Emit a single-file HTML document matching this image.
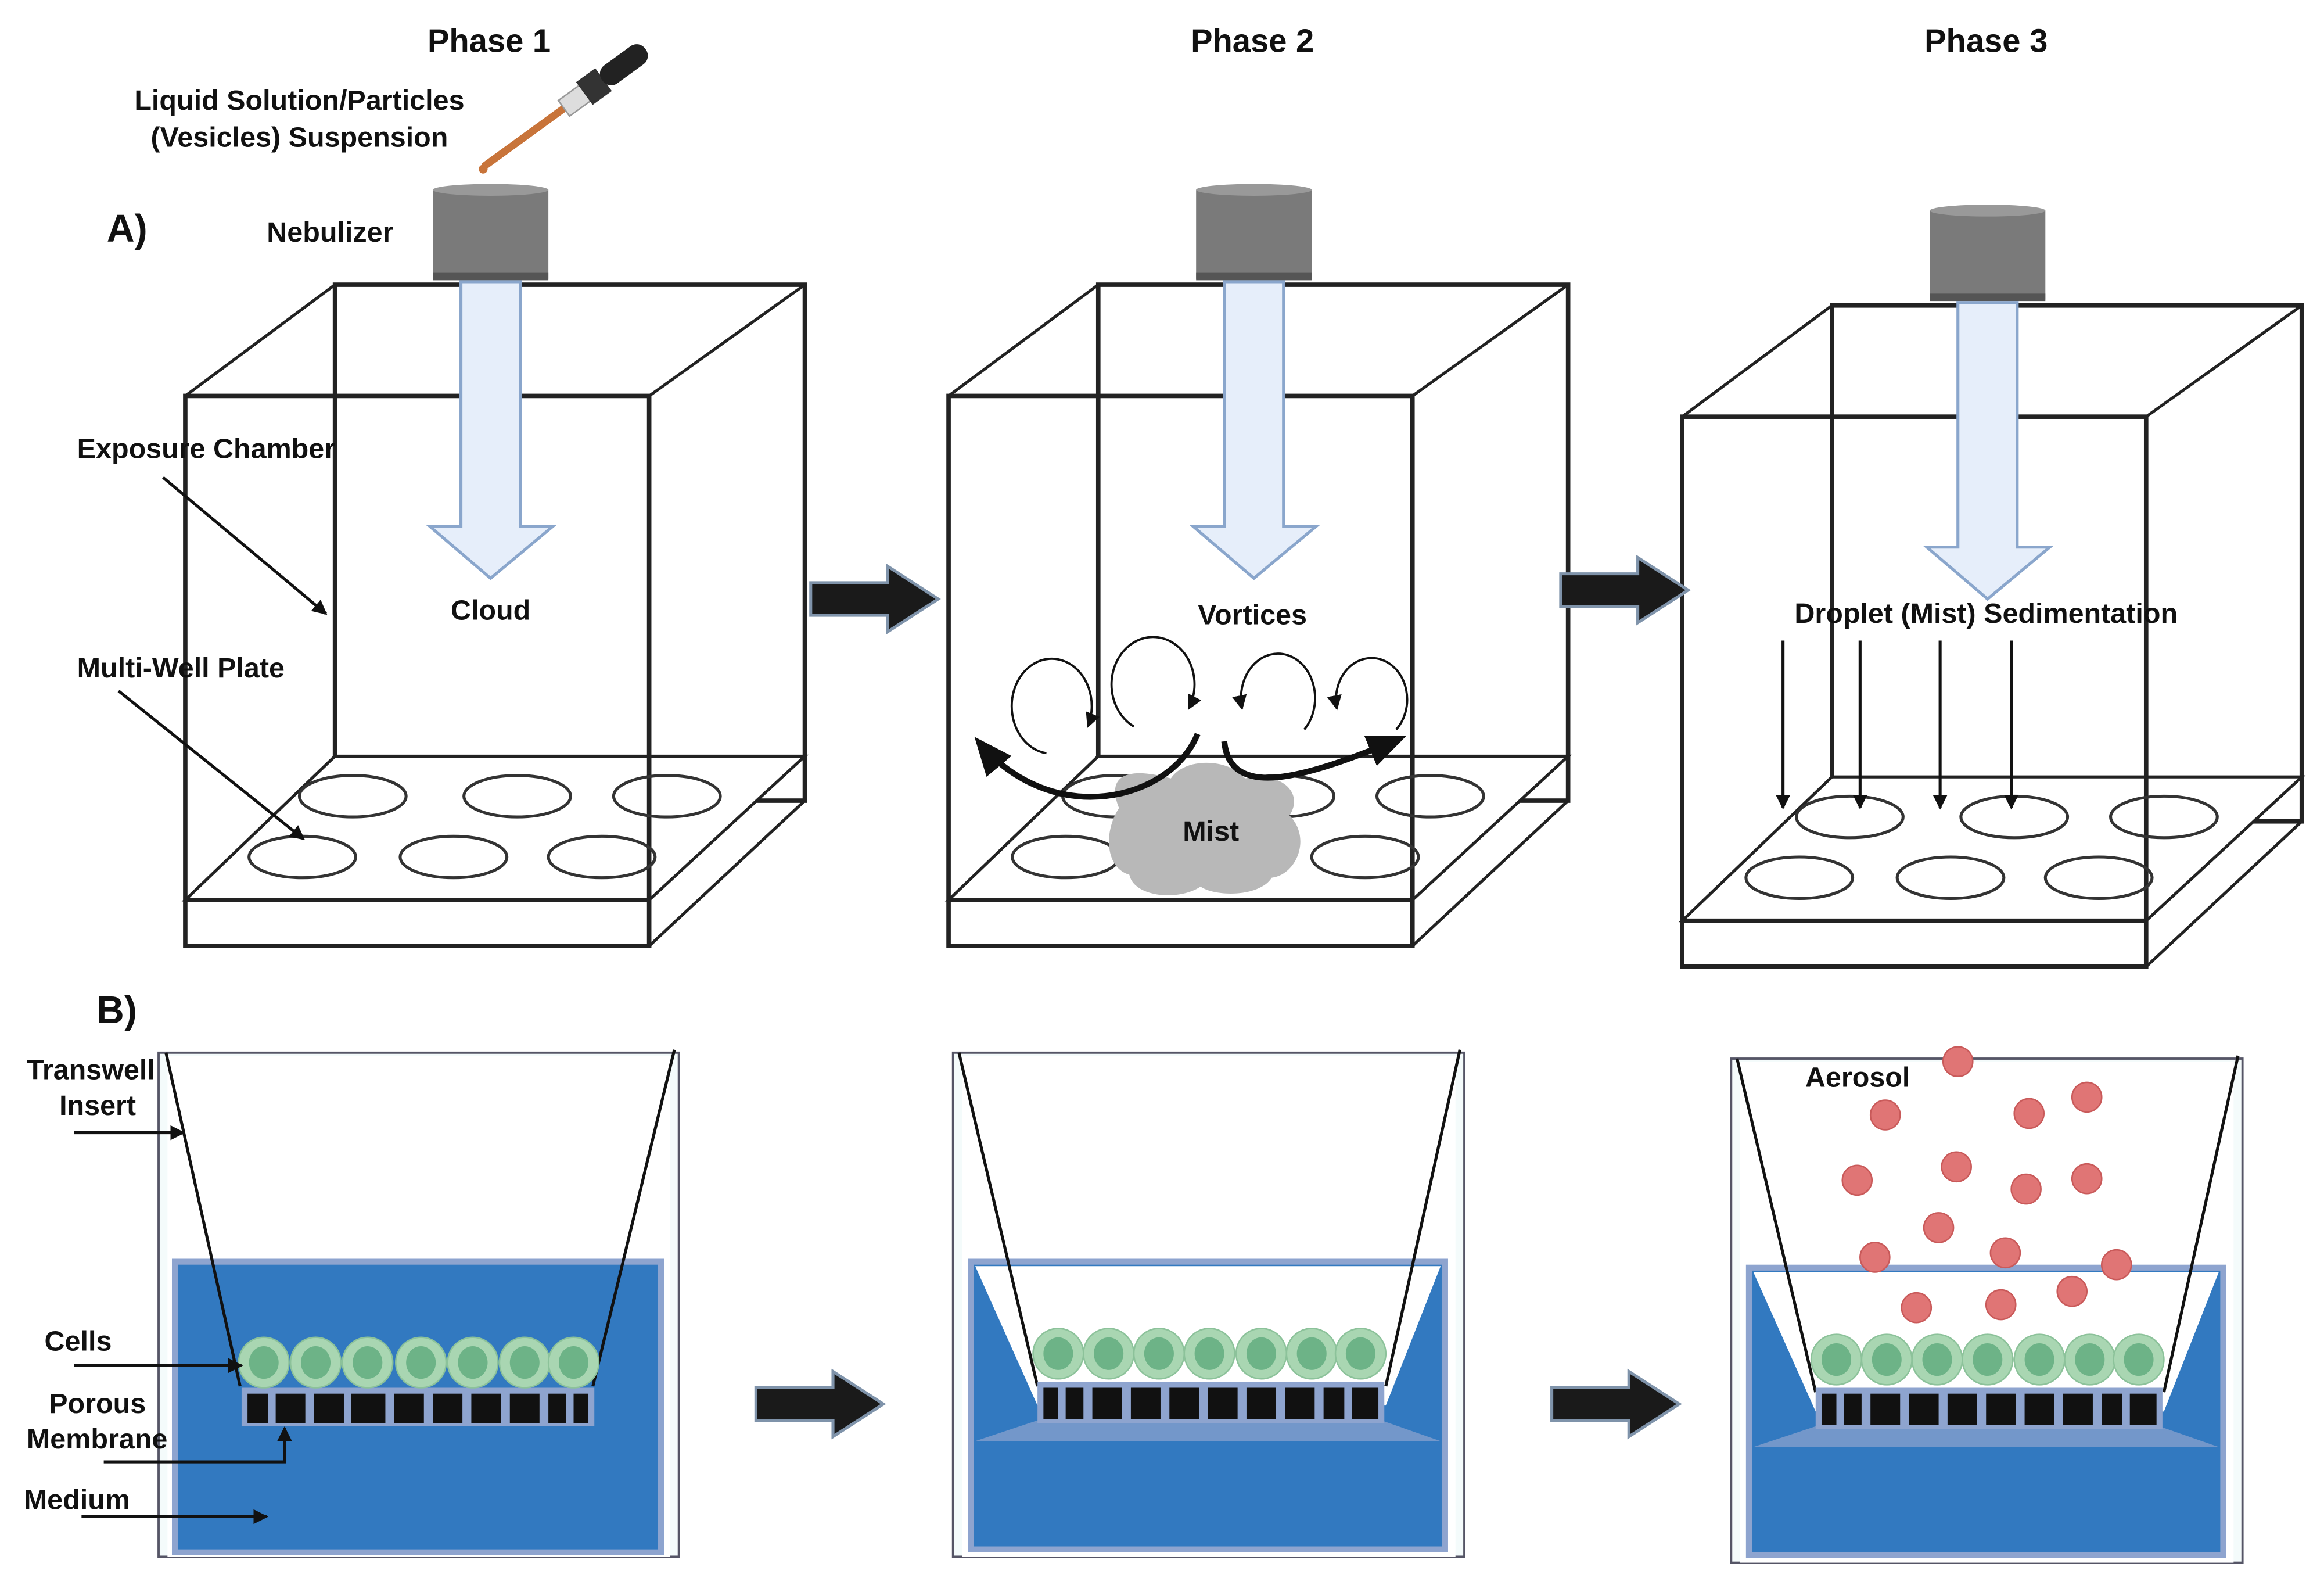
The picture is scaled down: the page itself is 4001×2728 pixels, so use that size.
<!DOCTYPE html>
<html><head><meta charset="utf-8"><style>
html,body{margin:0;padding:0;background:#fff;}
svg{display:block;}
text{font-family:"Liberation Sans",sans-serif;font-weight:bold;fill:#111;}
</style></head><body>
<svg width="4001" height="2728" viewBox="0 0 1568 1069" xmlns="http://www.w3.org/2000/svg">
<defs>
<marker id="ah" markerWidth="10" markerHeight="10" refX="9" refY="5" orient="auto" markerUnits="userSpaceOnUse"><path d="M0,0 L10,5 L0,10 z" fill="#111"/></marker>
<marker id="ahb" markerWidth="26" markerHeight="22" refX="22" refY="11" orient="auto" markerUnits="userSpaceOnUse"><path d="M0,0 L26,11 L0,22 z" fill="#111"/></marker>
<g id="chamber">
 <rect x="226" y="192" width="317" height="348" fill="none" stroke="#222" stroke-width="3"/>
 <line x1="125" y1="267" x2="226" y2="192" stroke="#222" stroke-width="2"/>
 <line x1="438" y1="267" x2="543" y2="192" stroke="#222" stroke-width="2"/>
 <polygon points="125,607 226,510 543,510 438,607" fill="#fff" stroke="#222" stroke-width="2"/>
 <line x1="438" y1="638" x2="543" y2="540" stroke="#222" stroke-width="2"/>
 <rect x="125" y="267" width="313" height="371" fill="none" stroke="#222" stroke-width="3"/>
 <line x1="125" y1="607" x2="438" y2="607" stroke="#222" stroke-width="3"/>
 <g fill="none" stroke="#333" stroke-width="2">
  <ellipse cx="238" cy="537" rx="36" ry="14"/><ellipse cx="349" cy="537" rx="36" ry="14"/><ellipse cx="450" cy="537" rx="36" ry="14"/>
  <ellipse cx="204" cy="578" rx="36" ry="14"/><ellipse cx="306" cy="578" rx="36" ry="14"/><ellipse cx="406" cy="578" rx="36" ry="14"/>
 </g>
</g>
<g id="neb">
 <rect x="292" y="128" width="78" height="60" fill="#7a7a7a"/>
 <ellipse cx="331" cy="128" rx="39" ry="4" fill="#999"/>
 <rect x="292" y="184" width="78" height="5" fill="#555"/>
 <polygon points="311,190 351,190 351,355 373,355 331,390 290,355 311,355" fill="#e6eefa" stroke="#8aa6cc" stroke-width="2"/>
</g>
<polygon id="barrow" points="0,-11 52,-11 52,-22 86,0 52,22 52,11 0,11" fill="#1a1a1a" stroke="#7f93aa" stroke-width="2"/>
<g id="cell"><circle r="17" fill="#a9d6b2" stroke="#8cc29a" stroke-width="1"/><ellipse rx="10" ry="11" fill="#6db387"/></g>
</defs>

<text x="330" y="35" font-size="22" text-anchor="middle">Phase 1</text>
<text x="845" y="35" font-size="22" text-anchor="middle">Phase 2</text>
<text x="1340" y="35" font-size="22" text-anchor="middle">Phase 3</text>

<!-- dropper -->
<g transform="translate(326,112) rotate(54)">
 <rect x="-2" y="-70" width="5" height="70" fill="#c8743a"/>
 <rect x="-6" y="-85" width="13" height="18" fill="#ddd" stroke="#999"/>
 <rect x="-9" y="-100" width="19" height="16" fill="#333"/>
 <rect x="-7" y="-135" width="15" height="36" rx="7" fill="#222"/>
</g>
<circle cx="326" cy="114" r="3" fill="#c8743a"/>
<text x="202" y="74" font-size="19" text-anchor="middle">Liquid Solution/Particles</text>
<text x="202" y="99" font-size="19" text-anchor="middle">(Vesicles) Suspension</text>
<text x="72" y="163" font-size="26">A)</text>
<text x="180" y="163" font-size="19">Nebulizer</text>

<use href="#chamber"/>
<use href="#neb"/>
<use href="#chamber" transform="translate(515,0)"/>
<use href="#neb" transform="translate(515,0)"/>
<use href="#chamber" transform="translate(1010,14)"/>
<use href="#neb" transform="translate(1010,14)"/>

<text x="52" y="309" font-size="19">Exposure Chamber</text>
<line x1="110" y1="322" x2="220" y2="414" stroke="#111" stroke-width="2" marker-end="url(#ah)"/>
<text x="52" y="457" font-size="19">Multi-Well Plate</text>
<line x1="80" y1="466" x2="205" y2="566" stroke="#111" stroke-width="2" marker-end="url(#ah)"/>
<text x="331" y="418" font-size="19" text-anchor="middle">Cloud</text>

<!-- phase 2 -->
<path d="M755,545 C745,520 765,518 790,525 C800,510 830,512 840,525 C865,520 880,535 870,550 C885,565 875,590 858,592 C850,605 820,605 810,598 C795,608 765,605 762,590 C745,585 745,560 755,545 Z" fill="#b8b8b8"/>
<text x="817" y="567" font-size="19" text-anchor="middle">Mist</text>
<text x="845" y="421" font-size="19" text-anchor="middle">Vortices</text>
<g fill="none" stroke="#111" stroke-width="1.5" marker-end="url(#ah)">
 <path d="M706,508 A27,32 0 1 1 734,490"/>
 <path d="M765,490 A28,32 0 1 1 802,478"/>
 <path d="M880,492 A25,30 0 1 0 838,478"/>
 <path d="M942,492 A24,28 0 1 0 902,478"/>
</g>
<path d="M808,495 C790,540 710,560 660,500" fill="none" stroke="#111" stroke-width="4" marker-end="url(#ahb)"/>
<path d="M826,500 C830,540 880,525 945,498" fill="none" stroke="#111" stroke-width="4" marker-end="url(#ahb)"/>

<!-- phase 3 -->
<text x="1340" y="420" font-size="19" text-anchor="middle">Droplet (Mist) Sedimentation</text>
<g stroke="#111" stroke-width="2" marker-end="url(#ah)">
 <line x1="1203" y1="432" x2="1203" y2="545"/>
 <line x1="1255" y1="432" x2="1255" y2="545"/>
 <line x1="1309" y1="432" x2="1309" y2="545"/>
 <line x1="1357" y1="432" x2="1357" y2="545"/>
</g>

<use href="#barrow" transform="translate(547,404)"/>
<use href="#barrow" transform="translate(1053,398)"/>
<use href="#barrow" transform="translate(510,947)"/>
<use href="#barrow" transform="translate(1047,947)"/>

<text x="65" y="690" font-size="26">B)</text>

<!-- B phase 1 -->
<rect x="107" y="710" width="351" height="340" fill="#f4fbfb" stroke="#556" stroke-width="1.5"/>
<rect x="113" y="712" width="339" height="338" fill="#fff"/>
<rect x="118" y="851" width="328" height="196" fill="#3279c0" stroke="#8ea4cf" stroke-width="4"/>
<line x1="112" y1="710" x2="162" y2="935" stroke="#111" stroke-width="2"/>
<line x1="455" y1="708" x2="400" y2="935" stroke="#111" stroke-width="2"/>
<rect x="163" y="936" width="238" height="26" fill="#8ea4cf"/>
<g fill="#111">
<rect x="167" y="940" width="14" height="20"/><rect x="186" y="940" width="20" height="20"/><rect x="212" y="940" width="20" height="20"/><rect x="237" y="940" width="23" height="20"/><rect x="266" y="940" width="20" height="20"/><rect x="292" y="940" width="20" height="20"/><rect x="318" y="940" width="20" height="20"/><rect x="344" y="940" width="20" height="20"/><rect x="370" y="940" width="12" height="20"/><rect x="387" y="940" width="10" height="20"/>
</g>
<use href="#cell" x="178" y="919"/><use href="#cell" x="213" y="919"/><use href="#cell" x="248" y="919"/><use href="#cell" x="284" y="919"/><use href="#cell" x="319" y="919"/><use href="#cell" x="354" y="919"/><use href="#cell" x="387" y="919"/>
<text x="18" y="728" font-size="19">Transwell</text>
<text x="40" y="752" font-size="19">Insert</text>
<line x1="50" y1="764" x2="124" y2="764" stroke="#111" stroke-width="2" marker-end="url(#ah)"/>
<text x="30" y="911" font-size="19">Cells</text>
<line x1="50" y1="921" x2="163" y2="921" stroke="#111" stroke-width="2" marker-end="url(#ah)"/>
<text x="33" y="953" font-size="19">Porous</text>
<text x="18" y="977" font-size="19">Membrane</text>
<polyline points="70,986 192,986 192,963" fill="none" stroke="#111" stroke-width="2" marker-end="url(#ah)"/>
<text x="16" y="1018" font-size="19">Medium</text>
<line x1="55" y1="1023" x2="180" y2="1023" stroke="#111" stroke-width="2" marker-end="url(#ah)"/>

<!-- B phase 2 & 3 shared -->
<g id="tw2">
<rect x="643" y="710" width="345" height="340" fill="#f4fbfb" stroke="#556" stroke-width="1.5"/>
<rect x="649" y="712" width="333" height="338" fill="#fff"/>
<rect x="655" y="851" width="320" height="194" fill="#3279c0" stroke="#8ea4cf" stroke-width="4"/>
<polygon points="658,854 972,854 935,948 700,948" fill="#fff"/>
<polygon points="700,958 932,958 972,972 658,972" fill="#8ea4cf" opacity="0.7"/>
<line x1="647" y1="710" x2="700" y2="935" stroke="#111" stroke-width="2"/>
<line x1="985" y1="708" x2="935" y2="935" stroke="#111" stroke-width="2"/>
<rect x="700" y="932" width="234" height="28" fill="#8ea4cf"/>
<g fill="#111">
<rect x="704" y="936" width="10" height="21"/><rect x="719" y="936" width="12" height="21"/><rect x="737" y="936" width="20" height="21"/><rect x="763" y="936" width="20" height="21"/><rect x="789" y="936" width="20" height="21"/><rect x="815" y="936" width="20" height="21"/><rect x="841" y="936" width="20" height="21"/><rect x="867" y="936" width="20" height="21"/><rect x="893" y="936" width="14" height="21"/><rect x="912" y="936" width="18" height="21"/>
</g>
<use href="#cell" x="714" y="913"/><use href="#cell" x="748" y="913"/><use href="#cell" x="782" y="913"/><use href="#cell" x="816" y="913"/><use href="#cell" x="851" y="913"/><use href="#cell" x="885" y="913"/><use href="#cell" x="918" y="913"/>
</g>
<use href="#tw2" transform="translate(525,4)"/>

<text x="1218" y="733" font-size="19">Aerosol</text>
<g fill="#e07575" stroke="#c95a5a" stroke-width="1">
<circle cx="1321" cy="716" r="10"/><circle cx="1272" cy="752" r="10"/><circle cx="1369" cy="751" r="10"/><circle cx="1408" cy="740" r="10"/><circle cx="1253" cy="796" r="10"/><circle cx="1320" cy="787" r="10"/><circle cx="1367" cy="802" r="10"/><circle cx="1408" cy="795" r="10"/><circle cx="1308" cy="828" r="10"/><circle cx="1265" cy="848" r="10"/><circle cx="1353" cy="845" r="10"/><circle cx="1428" cy="853" r="10"/><circle cx="1293" cy="882" r="10"/><circle cx="1350" cy="880" r="10"/><circle cx="1398" cy="871" r="10"/>
</g>
</svg>
</body></html>
